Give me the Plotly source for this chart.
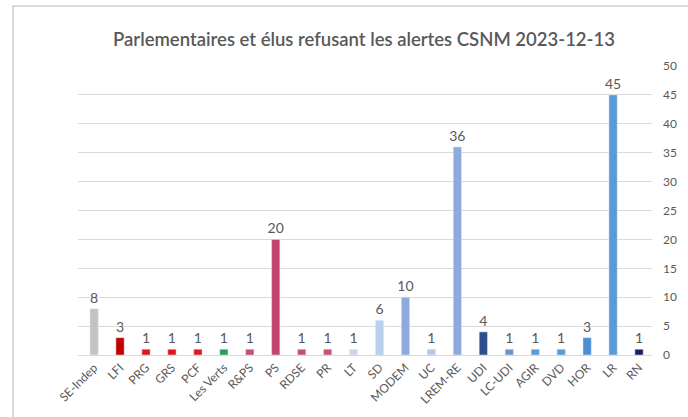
import plotly.graph_objects as go

categories = ["SE-Indep", "LFI", "PRG", "GRS", "PCF", "Les Verts", "R&PS", "PS", "RDSE", "PR", "LT",
              "SD", "MODEM", "UC", "LREM-RE", "UDI", "LC-UDI", "AGIR", "DVD", "HOR", "LR", "RN"]
values = [8, 3, 1, 1, 1, 1, 1, 20, 1, 1, 1, 6, 10, 1, 36, 4, 1, 1, 1, 3, 45, 1]
colors = ["#c3c3c3", "#c00000", "#e0161c", "#e0161c", "#e0161c", "#1fa454", "#c0507a", "#c2446f",
          "#c0507a", "#c8507a", "#cdd6e8", "#b8d0ec", "#8ea9db", "#b4c6e7", "#8eaadb", "#2f4d8a",
          "#6b95c9", "#5b9bd5", "#5b9bd5", "#4a8fd6", "#5b9bd5", "#1b1f5c"]
y_ticks = [0, 5, 10, 15, 20, 25, 30, 35, 40, 45, 50]
title = "Parlementaires et élus refusant les alertes CSNM 2023-12-13"

fig = go.Figure(go.Bar(
    x=categories, y=values, marker_color=colors, width=0.32,
    text=[str(v) for v in values], textposition="outside", cliponaxis=False,
    constraintext="none",
    textfont=dict(size=14, color="#595959", family="Lato, sans-serif"),
))

L, R, T, B = 78, 36, 66, 62
fig.update_layout(
    width=688, height=417,
    margin=dict(l=L, r=R, t=T, b=B, autoexpand=False),
    paper_bgcolor="white", plot_bgcolor="white",
    showlegend=False,
    title=dict(text=title, x=364 / 688, xanchor="center", y=1 - 40 / 417, yanchor="middle",
               font=dict(size=18.5, color="#595959", family="Lato, sans-serif", weight=600)),
    xaxis=dict(range=[-0.62, len(categories) - 0.5], tickangle=-45, showgrid=False,
               showline=True, linecolor="#d9d9d9", linewidth=1, ticks="",
               tickfont=dict(size=12, color="#595959", family="Lato, sans-serif")),
    yaxis=dict(range=[0, 50], side="right", tickvals=y_ticks, showgrid=True,
               gridcolor="#d9d9d9", gridwidth=1, zeroline=False, ticks="",
               tickfont=dict(size=12, color="#595959", family="Lato, sans-serif"),
               ticklabelstandoff=10),
    font=dict(family="Lato, sans-serif", color="#595959"),
)
pw, ph = 688 - L - R, 417 - T - B
fig.add_shape(type="rect", xref="paper", yref="paper",
              x0=(13 - L) / pw, x1=(700 - L) / pw, y0=(ph + T - 430) / ph, y1=(ph + T - 6) / ph,
              line=dict(color="#cfcfcf", width=1.5), fillcolor="rgba(0,0,0,0)", layer="above")

fig.write_html("out.html", config={"displayModeBar": False},
               post_script="document.body.style.margin='0';document.body.style.overflow='hidden';")
